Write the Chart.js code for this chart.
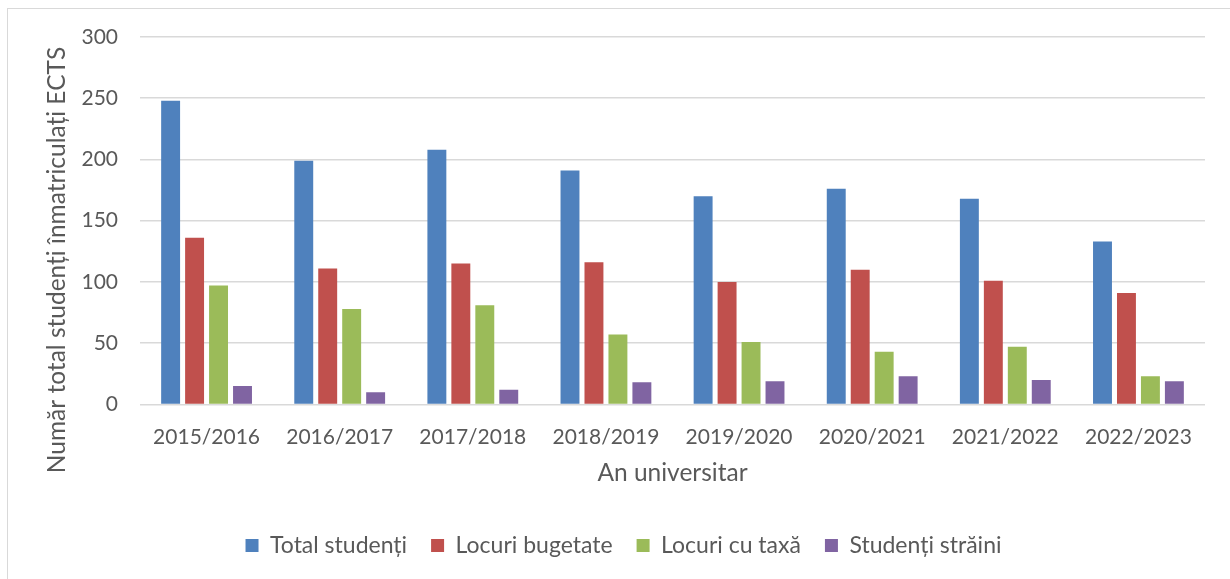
<!DOCTYPE html>
<html>
<head>
<meta charset="utf-8">
<script src="https://cdn.jsdelivr.net/npm/chart.js@4"></script>
<style>
  html, body { margin: 0; padding: 0; background: #fff; overflow: hidden; }
  #frame { position: absolute; left: 7px; top: 8px; width: 1240px; height: 600px; border: 1px solid #d9d9d9; box-sizing: border-box; }
  #wrap { position: absolute; left: 0; top: 0; width: 1230px; height: 579px; }
</style>
</head>
<body>
<div id="frame"></div>
<div id="wrap"><canvas id="chart"></canvas></div>
<script>
// Ani universitari
const years = ['2015/2016', '2016/2017', '2017/2018', '2018/2019', '2019/2020', '2020/2021', '2021/2022', '2022/2023'];

// Serii
const totalStudenti = [248, 199, 208, 191, 170, 176, 168, 133];
const locuriBugetate = [136, 111, 115, 116, 100, 110, 101, 91];
const locuriTaxa = [97, 78, 81, 57, 51, 43, 47, 23];
const studentiStraini = [15, 10, 12, 18, 19, 23, 20, 19];

const yTicks = [0, 50, 100, 150, 200, 250, 300];
const yTitle = 'Număr total studenți înmatriculați ECTS';

const TEXT = '#595959';
const GRID = '#d9d9d9';
const FONT = 'Lato, Carlito, Calibri, sans-serif';

const mkSet = (label, data, color) => ({
  label,
  data,
  backgroundColor: color,
  borderWidth: 0,
  categoryPercentage: 0.72,
  barPercentage: 0.79
});

// titlul axei Y, desenat un pic mai jos decât centrul (ca în Excel)
const yTitlePlugin = {
  id: 'yTitle',
  afterDraw(chart) {
    const ctx = chart.ctx;
    ctx.save();
    ctx.translate(57, 260);
    ctx.rotate(-Math.PI / 2);
    ctx.font = '24.5px ' + FONT;
    ctx.fillStyle = TEXT;
    ctx.textAlign = 'center';
    ctx.textBaseline = 'middle';
    ctx.fillText(yTitle, 0, 0);
    ctx.restore();
  }
};

new Chart(document.getElementById('chart'), {
  type: 'bar',
  data: {
    labels: years,
    datasets: [
      mkSet('Total studenți', totalStudenti, '#4f81bd'),
      mkSet('Locuri bugetate', locuriBugetate, '#c0504d'),
      mkSet('Locuri cu taxă', locuriTaxa, '#9bbb59'),
      mkSet('Studenți străini', studentiStraini, '#8064a2')
    ]
  },
  plugins: [yTitlePlugin],
  options: {
    responsive: true,
    maintainAspectRatio: false,
    animation: false,
    layout: { padding: { left: 42, top: 37, right: 25, bottom: 12 } },
    plugins: {
      tooltip: { enabled: false },
      legend: {
        position: 'bottom',
        labels: {
          color: TEXT,
          font: { family: FONT, size: 23 },
          boxWidth: 13,
          boxHeight: 13,
          padding: 24
        }
      }
    },
    scales: {
      x: {
        grid: { display: false },
        border: { display: false },
        ticks: { color: TEXT, font: { family: FONT, size: 21 }, padding: 12, maxRotation: 0 },
        title: {
          display: true,
          text: 'An universitar',
          color: TEXT,
          font: { family: FONT, size: 24.5 },
          padding: { top: -3, bottom: 22 }
        }
      },
      y: {
        min: 0,
        max: 300,
        afterBuildTicks: (scale) => { scale.ticks = yTicks.map(v => ({ value: v })); },
        afterFit: (scale) => { scale.width = 98; },
        grid: { color: GRID, lineWidth: 1.5, drawTicks: false },
        border: { display: false },
        ticks: { color: TEXT, font: { family: FONT, size: 21 }, padding: 22 }
      }
    }
  }
});
</script>
</body>
</html>
